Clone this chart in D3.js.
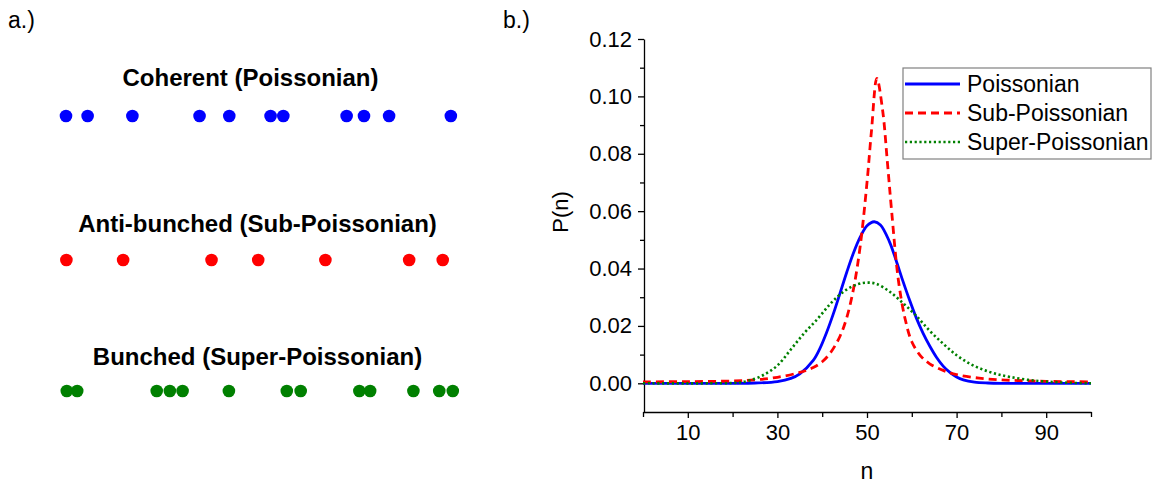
<!DOCTYPE html>
<html>
<head>
<meta charset="utf-8">
<script src="https://cdn.jsdelivr.net/npm/d3@7"></script>
<style>
  body { margin: 0; background: #fff; }
  svg text { font-family: "Liberation Sans", Arial, sans-serif; fill: #000; }
</style>
</head>
<body>
<svg id="fig" width="1156" height="483"></svg>
<script>
// panel a: photon arrival times (arbitrary units, 0..100)
let coherentTimes = [0, 5.6, 17.2, 34.6, 42.3, 53.0, 56.3, 72.7, 77.2, 83.7, 99.7]
let antibunchedTimes = [0.1, 14.8, 37.7, 49.8, 67.2, 88.9, 97.6]
let bunchedTimes = [0.2, 2.9, 23.5, 26.9, 30.2, 42.2, 57.2, 60.8, 76.0, 78.8, 90.0, 96.7, 100.2]
let rowTitles = ["Coherent (Poissonian)", "Anti-bunched (Sub-Poissonian)", "Bunched (Super-Poissonian)"]

// panel b: photon number distributions
let poissonN = [0, 20, 25, 30, 33, 35, 38, 39.5, 41, 42.5, 44, 45.5, 47, 48.5, 50, 51.6, 53, 55, 56.5, 58, 59.5, 61, 62.5, 64, 65.5, 67, 68.5, 70, 71.5, 74, 77, 80, 90, 100]
let poissonP = [0, 0, 0.0001, 0.0006, 0.0017, 0.0033, 0.0080, 0.0122, 0.0178, 0.0243, 0.0315, 0.0388, 0.0455, 0.0510, 0.0549, 0.0563, 0.0552, 0.0494, 0.0428, 0.0357, 0.0290, 0.0228, 0.0175, 0.0130, 0.0091, 0.0060, 0.0038, 0.0022, 0.0012, 0.0004, 0.0001, 0, 0, 0]

let subN = [0, 10, 20, 25, 30, 35, 38, 40, 42, 44, 45.5, 47, 48.5, 50, 51, 52.2, 53.5, 54.5, 55.5, 57, 58.5, 60, 62, 64, 67, 70, 75, 80, 85, 90, 100]
let subP = [0.0005, 0.0006, 0.0008, 0.0012, 0.0021, 0.0038, 0.0055, 0.0075, 0.0110, 0.0165, 0.0230, 0.0330, 0.0480, 0.0700, 0.0880, 0.1063, 0.0950, 0.0780, 0.0600, 0.0360, 0.0225, 0.0145, 0.0095, 0.0068, 0.0045, 0.0030, 0.0018, 0.0012, 0.0009, 0.0007, 0.0005]

let superN = [0, 15, 20, 22, 24, 27, 30, 33, 36, 39, 42, 45, 48, 50, 52, 55, 58, 61, 64, 67, 70, 73, 76, 79, 82, 86, 90, 95, 100]
let superP = [0, 0, 0.0001, 0.0004, 0.0011, 0.0030, 0.0062, 0.0118, 0.0175, 0.0225, 0.0280, 0.0322, 0.0346, 0.0351, 0.0347, 0.0320, 0.0280, 0.0235, 0.0183, 0.0138, 0.0098, 0.0068, 0.0047, 0.0032, 0.0022, 0.0012, 0.0006, 0.0002, 0]

let seriesNames = ["Poissonian", "Sub-Poissonian", "Super-Poissonian"]
let xMajorTicks = [10, 30, 50, 70, 90]
let xMinorTicks = [0, 20, 40, 60, 80, 100]
let yMajorTicks = [0, 0.02, 0.04, 0.06, 0.08, 0.10, 0.12]
let yMinorTicks = [0.01, 0.03, 0.05, 0.07, 0.09, 0.11]

let svg = d3.select("#fig")

// ---------- panel a ----------
svg.append("text").attr("x", 8).attr("y", 28).attr("font-size", 23).text("a.)")

let t = d3.scaleLinear().domain([0, 100]).range([66, 452])
let rows = [
    {times: coherentTimes, color: "#0000ff", y: 116, tx: 250.5, ty: 86},
    {times: antibunchedTimes, color: "#ff0000", y: 260, tx: 257.5, ty: 232},
    {times: bunchedTimes, color: "#008000", y: 391, tx: 257.5, ty: 365}
]

rows.forEach((r, i) => {
    svg.append("text")
        .attr("x", r.tx).attr("y", r.ty)
        .attr("text-anchor", "middle")
        .attr("font-size", 24).attr("font-weight", "bold")
        .text(rowTitles[i])
    svg.append("g").selectAll("circle")
        .data(r.times)
        .enter()
        .append("circle")
            .attr("cx", d => t(d))
            .attr("cy", r.y)
            .attr("r", 6.3)
            .attr("fill", r.color)
})

// ---------- panel b ----------
svg.append("text").attr("x", 503).attr("y", 28).attr("font-size", 23).text("b.)")

let x = d3.scaleLinear().domain([0, 100]).range([643, 1091])
let y = d3.scaleLinear().domain([-0.01, 0.12]).range([412, 39])

svg.append("g")
    .attr("transform", `translate(0,${y(-0.01)})`)
    .call(d3.axisBottom(x).tickValues(xMajorTicks).tickSize(6).tickSizeOuter(0).tickPadding(6))
svg.append("g")
    .attr("transform", `translate(0,${y(-0.01)})`)
    .call(d3.axisBottom(x).tickValues(xMinorTicks).tickSize(5).tickFormat(""))
    .call(g => g.select(".domain").remove())

svg.append("g")
    .attr("transform", `translate(${x(0) + 1},0)`)
    .call(d3.axisLeft(y).tickValues(yMajorTicks).tickSize(6).tickSizeOuter(0).tickPadding(6).tickFormat(d3.format(".2f")))
svg.append("g")
    .attr("transform", `translate(${x(0) + 1},0)`)
    .call(d3.axisLeft(y).tickValues(yMinorTicks).tickSize(4).tickFormat(""))
    .call(g => g.select(".domain").remove())

svg.selectAll(".tick text").attr("font-size", 22).attr("font-family", "Liberation Sans, Arial, sans-serif")
svg.selectAll(".domain, .tick line").attr("stroke", "#000").attr("stroke-width", 1.3)

svg.append("text")
    .attr("x", x(50)).attr("y", 479)
    .attr("text-anchor", "middle").attr("font-size", 23)
    .text("n")
svg.append("text")
    .attr("transform", `translate(568,${212}) rotate(-90)`)
    .attr("text-anchor", "middle").attr("font-size", 22)
    .text("P(n)")

let series = [
    {n: poissonN, p: poissonP, color: "#0000ff", dash: null, w: 2.8},
    {n: subN, p: subP, color: "#ff0000", dash: "8,5", w: 2.8},
    {n: superN, p: superP, color: "#008000", dash: "2.2,2.6", w: 2.6}
]

let line = d3.line()
    .x(d => x(d[0]))
    .y(d => y(d[1]))
    .curve(d3.curveCatmullRom.alpha(0.5))

svg.append("g").selectAll("path")
    .data(series)
    .enter()
    .append("path")
        .attr("d", s => line(d3.zip(s.n, s.p)))
        .attr("fill", "none")
        .attr("stroke", s => s.color)
        .attr("stroke-width", s => s.w)
        .attr("stroke-dasharray", s => s.dash)

// legend
let lg = svg.append("g")
lg.append("rect")
    .attr("x", 903).attr("y", 68).attr("width", 248).attr("height", 91)
    .attr("fill", "#fff").attr("stroke", "#808080").attr("stroke-width", 1.2)

let items = lg.selectAll(".item")
    .data(series)
    .enter()
    .append("g")
        .attr("class", "item")
        .attr("transform", (d, i) => `translate(0,${84 + i * 29})`)
items.append("line")
    .attr("x1", 905).attr("x2", 960)
    .attr("stroke", d => d.color)
    .attr("stroke-width", d => d.w)
    .attr("stroke-dasharray", d => d.dash)
items.append("text")
    .attr("x", 967).attr("y", 8)
    .attr("font-size", 23)
    .text((d, i) => seriesNames[i])
</script>
</body>
</html>
